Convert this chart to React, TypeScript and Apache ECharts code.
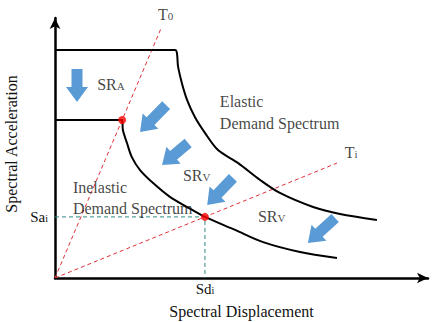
import React, { useEffect, useRef } from 'react';
import * as echarts from 'echarts';

// Elastic demand spectrum (Sd, Sa)
const elasticSd = [0, 32.2, 33.0, 34.0, 35.4, 37.5, 40.2, 43.7, 49.1, 55.0, 60.3, 69.2, 76.4, 86.3];
const elasticSa = [87.7, 87.7, 81.2, 75.0, 68.5, 61.9, 55.8, 49.2, 44.2, 37.7, 32.7, 27.3, 24.6, 22.3];

// Inelastic demand spectrum (Sd, Sa)
const inelasticSd = [0, 18.0, 18.2, 19.3, 20.6, 22.8, 26.3, 30.8, 35.4, 40.2, 48.3, 55.8, 65.7, 75.6];
const inelasticSa = [60.8, 60.8, 56.9, 51.9, 46.5, 41.5, 36.5, 31.2, 27.3, 23.5, 18.5, 13.8, 10.0, 7.7];

// Period lines from the origin: T0 and Ti
const periodLineT0 = [[0, 0], [28.6, 96.6]];
const periodLineTi = [[0, 0], [75.6, 44.2]];

// Yield point on T0 and performance point (Sdi, Sai)
const yieldPoint = [18.0, 60.8];
const performancePoint = [40.2, 23.5];

// Reduction arrows: [tail Sd, tail Sa, tip Sd, tip Sa]
const reductionArrows = [
  [5.9, 80.4, 5.9, 67.7],
  [29.8, 66.5, 22.8, 56.2],
  [35.7, 51.9, 28.7, 43.5],
  [47.7, 38.5, 40.8, 28.1],
  [75.1, 23.1, 67.8, 13.5],
];

// Text annotations: main text, subscript, anchor (left edge, vertical middle)
const annotationText = ['T', 'T', 'SR', 'SR', 'SR', 'Elastic', 'Demand Spectrum', 'Inelastic', 'Demand Spectrum'];
const annotationSub = ['0', 'i', 'A', 'V', 'V', '', '', '', ''];
const annotationAt = [
  [27.6, 101.2],
  [77.7, 48.1],
  [11.3, 74.6],
  [34.3, 39.6],
  [54.4, 23.5],
  [44.2, 67.7],
  [44.2, 59.6],
  [4.8, 35.0],
  [4.8, 26.9],
];

const SERIF = 'Liberation Serif, DejaVu Serif, serif';
const INK = '#111';

const rich = {
  a: { fontSize: 16, fontFamily: SERIF, color: INK, verticalAlign: 'bottom' },
  b: { fontSize: 11, fontFamily: SERIF, color: INK, verticalAlign: 'bottom', padding: [0, 0, 1, 0] },
  s: { fontSize: 15, fontFamily: SERIF, color: INK, verticalAlign: 'bottom' },
  t: { fontSize: 10, fontFamily: SERIF, color: INK, verticalAlign: 'bottom', padding: [0, 0, 1, 0] },
};

export default function App() {
  const ref = useRef<HTMLDivElement>(null);

  useEffect(() => {
    if (!ref.current) return;
    const chart = echarts.init(ref.current, undefined, { renderer: 'svg' });

    const zip = (xs: number[], ys: number[]) => xs.map((x, i) => [x, ys[i]]);

    const annotations = annotationText.map((text, i) => ({
      value: annotationAt[i],
      label: {
        formatter: annotationSub[i] ? `{a|${text}}{b|${annotationSub[i]}}` : `{a|${text}}`,
      },
    }));

    chart.setOption({
      animation: false,
      backgroundColor: '#fff',
      textStyle: { fontFamily: SERIF },
      grid: { left: 55, right: 12, top: 18, bottom: 44, outerBoundsMode: 'none', containLabel: false },
      xAxis: {
        type: 'value',
        min: 0,
        max: 100,
        name: 'Spectral Displacement',
        nameLocation: 'middle',
        nameGap: 25,
        nameTextStyle: { fontFamily: SERIF, fontSize: 16, color: INK },
        axisLine: {
          show: true,
          symbol: ['none', 'arrow'],
          symbolSize: [8, 11],
          lineStyle: { color: '#000', width: 2.5 },
        },
        axisTick: { show: false },
        splitLine: { show: false },
        axisLabel: {
          show: true,
          customValues: [performancePoint[0]],
          formatter: () => '{s|Sd}{t|i}',
          rich,
          margin: 3,
        },
      },
      yAxis: {
        type: 'value',
        min: 0,
        max: 100,
        name: 'Spectral Acceleration',
        nameLocation: 'middle',
        nameGap: 36,
        nameRotate: 90,
        nameTextStyle: { fontFamily: SERIF, fontSize: 16, color: INK, padding: [0, 0, 0, 8] },
        axisLine: {
          show: true,
          symbol: ['none', 'arrow'],
          symbolSize: [8, 11],
          lineStyle: { color: '#000', width: 2.5 },
        },
        axisTick: { show: false },
        splitLine: { show: false },
        axisLabel: {
          show: true,
          customValues: [performancePoint[1]],
          formatter: () => '{s|Sa}{t|i}',
          rich,
          margin: 7,
        },
      },
      series: [
        {
          type: 'line',
          data: zip(elasticSd, elasticSa),
          smooth: 0.3,
          showSymbol: false,
          lineStyle: { color: '#000', width: 2 },
          z: 3,
        },
        {
          type: 'line',
          data: zip(inelasticSd, inelasticSa),
          smooth: 0.3,
          showSymbol: false,
          lineStyle: { color: '#000', width: 2 },
          z: 3,
        },
        {
          type: 'line',
          data: periodLineT0,
          showSymbol: false,
          lineStyle: { color: '#e0303a', width: 1, type: [4, 3] },
          z: 2,
        },
        {
          type: 'line',
          data: periodLineTi,
          showSymbol: false,
          lineStyle: { color: '#e0303a', width: 1, type: [4, 3] },
          z: 2,
        },
        {
          type: 'line',
          data: [[0, performancePoint[1]], performancePoint, [performancePoint[0], 0]],
          showSymbol: false,
          lineStyle: { color: '#2f8a86', width: 1, type: [4, 3] },
          z: 2,
        },
        {
          type: 'scatter',
          data: [yieldPoint, performancePoint],
          symbolSize: 8,
          itemStyle: { color: '#ff0000' },
          z: 5,
        },
        {
          type: 'custom',
          data: reductionArrows,
          clip: false,
          z: 4,
          renderItem: (_params: any, api: any) => {
            const p0 = api.coord([api.value(0), api.value(1)]);
            const p1 = api.coord([api.value(2), api.value(3)]);
            const dx = p1[0] - p0[0];
            const dy = p1[1] - p0[1];
            const len = Math.hypot(dx, dy);
            const ux = dx / len;
            const uy = dy / len;
            const nx = -uy;
            const ny = ux;
            const sw = 5.5;
            const hw = 11;
            const hl = 15;
            const bx = p1[0] - ux * hl;
            const by = p1[1] - uy * hl;
            return {
              type: 'polygon',
              shape: {
                points: [
                  [p0[0] + nx * sw, p0[1] + ny * sw],
                  [bx + nx * sw, by + ny * sw],
                  [bx + nx * hw, by + ny * hw],
                  [p1[0], p1[1]],
                  [bx - nx * hw, by - ny * hw],
                  [bx - nx * sw, by - ny * sw],
                  [p0[0] - nx * sw, p0[1] - ny * sw],
                ],
              },
              style: { fill: '#5b9bd5' },
            };
          },
        },
        {
          type: 'scatter',
          data: annotations,
          symbolSize: 0,
          clip: false,
          silent: true,
          z: 6,
          label: {
            show: true,
            position: 'right',
            distance: 0,
            rich,
          },
        },
      ],
    });

    return () => chart.dispose();
  }, []);

  return (
    <div
      ref={ref}
      style={{ position: 'fixed', left: 0, top: 0, width: 440, height: 322 }}
    />
  );
}
